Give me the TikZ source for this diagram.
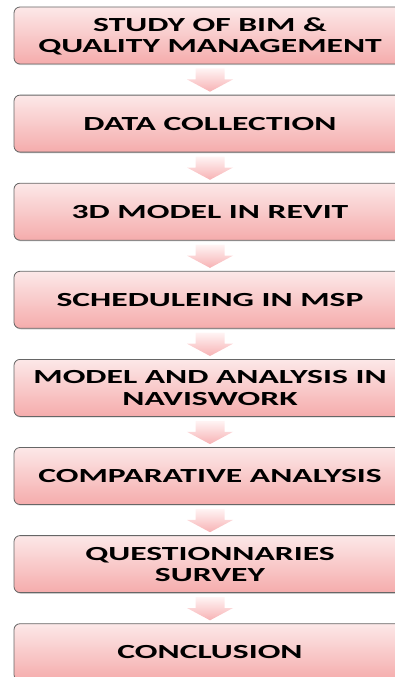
\documentclass[tikz,border=0pt]{standalone}
\usepackage{fontspec}
\setmainfont{Carlito}
\usetikzlibrary{positioning,calc,shadows}

\definecolor{boxtop}{RGB}{252,232,232}
\definecolor{boxbot}{RGB}{245,172,172}
\definecolor{arrtop}{RGB}{255,244,244}
\definecolor{arrbot}{RGB}{247,178,180}

% stretched caps, as in the scanned chart
\newcommand{\stagetxt}[1]{\raisebox{-2.4pt}[\height][\depth]{%
  \scalebox{1.68}[1]{\begin{tabular}{@{}c@{}}#1\end{tabular}}}}

\tikzset{
  stage/.style={rectangle, rounded corners=6pt, draw=black!60, line width=0.8pt,
    top color=boxtop, bottom color=boxbot, minimum width=392pt, minimum height=57pt,
    inner sep=0pt, font=\bfseries\fontsize{20}{21.5}\selectfont,
    drop shadow={opacity=0.3, shadow xshift=0.8pt, shadow yshift=-1.2pt}},
}

\begin{document}
\begin{tikzpicture}[x=1pt, y=1pt, node distance=30.3pt]
\useasboundingbox (0,0) rectangle (395,-677);

% Stages
\node[stage] (bim) at (210,-35.5) {\stagetxt{STUDY OF BIM \&\\QUALITY MANAGEMENT}};
\node[stage, below=of bim] (data) {\stagetxt{DATA COLLECTION}};
\node[stage, below=of data] (revit) {\stagetxt{3D MODEL IN REVIT}};
\node[stage, below=of revit] (msp) {\stagetxt{SCHEDULEING IN MSP}};
\node[stage, below=of msp] (navis) {\stagetxt{MODEL AND ANALYSIS IN\\NAVISWORK}};
\node[stage, below=of navis] (comp) {\stagetxt{COMPARATIVE ANALYSIS}};
\node[stage, below=of comp] (quest) {\stagetxt{QUESTIONNARIES\\SURVEY}};
\node[stage, below=of quest] (concl) {\stagetxt{CONCLUSION}};

% Block arrows between stages
\foreach \a/\b in {bim/data, data/revit, revit/msp, msp/navis, navis/comp, comp/quest, quest/concl}
  \shade[top color=arrtop, bottom color=arrbot]
    ($(\a.south)+(-14.5,-4)$) -- ($(\a.south)+(14.5,-4)$) -- ($(\a.south)+(14.5,-15)$)
    -- ($(\a.south)+(23,-15)$) -- ($(\b.north)+(0,3)$) -- ($(\a.south)+(-23,-15)$)
    -- ($(\a.south)+(-14.5,-15)$) -- cycle;

\end{tikzpicture}
\end{document}
